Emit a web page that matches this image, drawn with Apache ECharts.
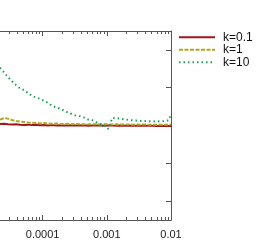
<!DOCTYPE html>
<html>
<head>
<meta charset="utf-8">
<script src="https://cdn.jsdelivr.net/npm/echarts@6/dist/echarts.min.js"></script>
<style>html,body{margin:0;padding:0;background:#fff;}#c{width:275px;height:240px;}</style>
</head>
<body>
<div id="c"></div>
<script>
// shared x positions (log scale)
var xs = [2.168e-5,2.504e-5,2.891e-5,3.339e-5,3.856e-5,4.453e-5,5.142e-5,5.938e-5,6.857e-5,7.918e-5,
  9.144e-5,1.056e-4,1.219e-4,1.408e-4,1.626e-4,1.878e-4,2.168e-4,2.504e-4,2.891e-4,3.339e-4,
  3.856e-4,4.453e-4,5.142e-4,5.938e-4,6.857e-4,7.918e-4,9.144e-4,1.056e-3,1.219e-3,1.408e-3,
  1.626e-3,1.878e-3,2.168e-3,2.504e-3,2.891e-3,3.339e-3,3.856e-3,4.453e-3,5.142e-3,5.938e-3,
  6.857e-3,7.918e-3,9.144e-3,1.0e-2];
var seriesNames = ['k=0.1','k=1','k=10'];
var k01 = [2.039,2.047,2.031,2.026,2.036,2.021,2.013,2.023,2.010,2.018,
  2.005,2.016,2.003,2.010,1.997,2.005,2.000,2.008,1.997,2.003,
  2.000,2.005,1.995,2.000,1.997,2.003,1.995,2.000,1.997,1.995,
  2.000,1.995,1.997,1.992,1.995,1.992,1.995,1.992,1.992,1.990,
  1.992,1.990,1.990,1.990];
var k1 = [2.156,2.195,2.182,2.143,2.117,2.104,2.091,2.078,2.073,2.065,
  2.057,2.063,2.052,2.047,2.052,2.042,2.039,2.044,2.036,2.039,
  2.034,2.036,2.031,2.036,2.031,2.029,2.034,2.029,2.026,2.031,
  2.026,2.029,2.026,2.023,2.026,2.023,2.026,2.021,2.023,2.021,
  2.023,2.021,2.021,2.026];
var k10 = [3.529,3.406,3.276,3.172,3.068,2.982,2.938,2.859,2.781,2.742,
  2.703,2.651,2.599,2.521,2.482,2.443,2.391,2.339,2.299,2.260,
  2.242,2.208,2.156,2.138,2.091,2.039,2.000,1.909,2.201,2.195,
  2.182,2.164,2.148,2.138,2.130,2.122,2.117,2.112,2.112,2.104,
  2.112,2.112,2.138,2.286];
var majorTicks = [1e-4,1e-3,1e-2];
var minorTicks = [3e-5,4e-5,5e-5,6e-5,7e-5,8e-5,9e-5,
  2e-4,3e-4,4e-4,5e-4,6e-4,7e-4,8e-4,9e-4,
  2e-3,3e-3,4e-3,5e-3,6e-3,7e-3,8e-3,9e-3];
var yTicks = [0,1,2,3,4];
var xMin = 2.168e-5, xMax = 1e-2, yMin = -0.5, yMax = 4.5;

function pairs(ys){ return xs.map(function(x,i){ return [x, ys[i]]; }); }
var axisCol = '#555';
function xAx(pos, ticks, len, showLine, showLabel){
  return {type:'log', position:pos, min:xMin, max:xMax,
    axisLine:{show:showLine, onZero:false, lineStyle:{color:axisCol, width:1}},
    axisTick:{show:true, inside:true, length:len, customValues:ticks, lineStyle:{color:axisCol, width:1}},
    axisLabel:{show:showLabel, customValues:majorTicks, margin:9, color:'#222', fontSize:11, fontFamily:'Liberation Sans',
      formatter:function(v){ return String(Number(v.toPrecision(3))); }},
    splitLine:{show:false}, minorTick:{show:false}};
}
var chart = echarts.init(document.getElementById('c'), null, {renderer:'canvas'});
chart.setOption({
  animation:false,
  backgroundColor:'#fff',
  grid:{left:0, right:104, top:31, bottom:17, containLabel:false},
  legend:{orient:'vertical', left:178, top:31, padding:0, itemGap:0, itemWidth:36, itemHeight:12,
    itemStyle:{opacity:0},
    textStyle:{fontSize:12, fontFamily:'Liberation Sans', color:'#111', lineHeight:12.5, padding:[0,0,0,3]},
    data:seriesNames},
  xAxis:[
    xAx('bottom', majorTicks, 5, true, true),
    xAx('bottom', minorTicks, 3, false, false),
    xAx('top', majorTicks, 5, true, false),
    xAx('top', minorTicks, 3, false, false)
  ],
  yAxis:[{type:'value', position:'right', min:yMin, max:yMax,
    axisLine:{show:true, lineStyle:{color:axisCol, width:1}},
    axisTick:{show:true, inside:true, length:5, customValues:yTicks, lineStyle:{color:axisCol}},
    axisLabel:{show:false}, splitLine:{show:false}}],
  series:[
    {name:seriesNames[0], type:'line', data:pairs(k01), symbol:'none', color:'#a0171c',
      lineStyle:{width:2, color:'#a0171c', type:'solid'}},
    {name:seriesNames[1], type:'line', data:pairs(k1), symbol:'none', color:'#b3a622',
      lineStyle:{width:2, color:'#b3a622', type:[4,1.5]}},
    {name:seriesNames[2], type:'line', data:pairs(k10), symbol:'none', color:'#1f9e55',
      lineStyle:{width:2, color:'#1f9e55', type:[1.5,3]}}
  ]
});
</script>
</body>
</html>
